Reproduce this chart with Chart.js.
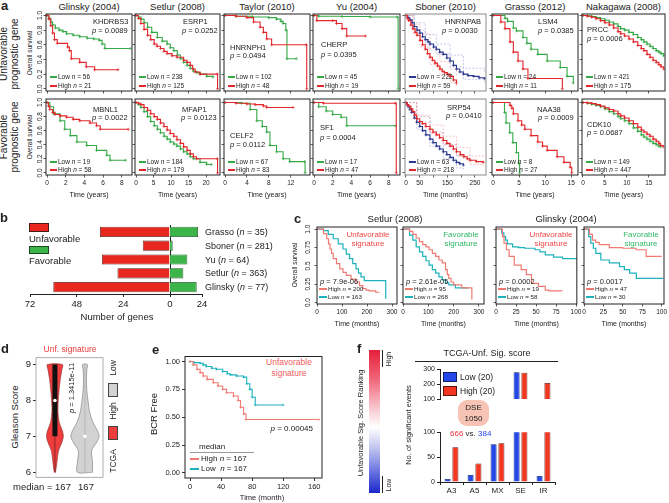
<!DOCTYPE html>
<html>
<head>
<meta charset="utf-8">
<script src="https://cdn.jsdelivr.net/npm/chart.js@4.4.1/dist/chart.umd.min.js"></script>
<style>
  body { margin: 0; background: #fff; }
  #fig { position: relative; width: 669px; height: 503px; overflow: hidden; font-family: "Liberation Sans", Arial, sans-serif; color: #222; }
  #fig canvas, #fig .t, #fig .r { position: absolute; }
  .t { white-space: nowrap; line-height: 1; }
</style>
</head>
<body>
<div id="fig"></div>
<script>
// ---------- panel a : single-gene survival, 7 cohorts ----------
const cohorts = ['Glinsky (2004)', 'Setlur (2008)', 'Taylor (2010)', 'Yu (2004)', 'Sboner (2010)', 'Grasso (2012)', 'Nakagawa (2008)'];
const timeUnit = ['years', 'years', 'years', 'years', 'months', 'years', 'years'];
const xTicks = [[0, 2, 4, 6, 8], [0, 5, 10, 15, 20], [0, 4, 8, 12], [0, 2, 4, 6, 8], [0, 50, 100, 150, 200, 250], [0, 5, 10, 15], [0, 5, 10, 15]];
const xMax = [9.1, 24, 15.5, 9.2, 290, 16.3, 18.7];
const survTicks = [0, 0.2, 0.4, 0.6, 0.8, 1];

const unfGene = ['KHDRBS3', 'ESRP1', 'HNRNPH1', 'CHERP', 'HNRNPAB', 'LSM4', 'PRCC'];
const unfP = ['0.0089', '0.0252', '0.0494', '0.0395', '0.0030', '0.0385', '0.0006'];
const unfLowN = [56, 238, 102, 45, 222, 24, 421];
const unfHighN = [21, 125, 48, 19, 59, 11, 175];
const favGene = ['MBNL1', 'MFAP1', 'CELF2', 'SF1', 'SRP54', 'NAA38', 'CDK10'];
const favP = ['0.0022', '0.0123', '0.0112', '0.0004', '0.0410', '0.0009', '0.0687'];
const favLowN = [19, 184, 67, 17, 63, 8, 149];
const favHighN = [58, 179, 83, 47, 218, 27, 447];

// [time, survival]
const glinskyUnfLow = [[0,1],[0.2,0.96],[0.4,0.91],[0.6,0.87],[0.9,0.83],[1.3,0.8],[1.7,0.78],[2.1,0.75],[2.8,0.73],[3.5,0.71],[4.3,0.69],[5,0.68],[5.6,0.66],[5.9,0.61],[6.2,0.55],[8.9,0.55]];
const glinskyUnfHigh = [[0,1],[0.2,0.95],[0.4,0.86],[0.6,0.76],[0.8,0.67],[1.1,0.62],[2.2,0.57],[2.4,0.52],[2.6,0.41],[3.5,0.36],[4.2,0.3],[5.1,0.26],[7.6,0.26]];
const setlurUnfLow = [[0,1],[0.7,0.98],[1.4,0.95],[2.3,0.9],[3.3,0.84],[4.5,0.77],[6.1,0.7],[7.5,0.65],[8.9,0.61],[9.8,0.56],[10.8,0.52],[11.8,0.46],[12.7,0.41],[13.6,0.36],[14.6,0.32],[15.5,0.28],[16.4,0.24],[17.4,0.22],[18.3,0.2],[20.2,0.17],[22,0.16]];
const setlurUnfHigh = [[0,1],[0.7,0.96],[1.4,0.89],[2.3,0.81],[3.3,0.73],[4.2,0.67],[5.2,0.61],[6,0.58],[7,0.55],[8,0.51],[8.9,0.48],[10.3,0.45],[11.7,0.43],[13.6,0.39],[14.6,0.36],[15.5,0.32],[16.2,0.27],[16.9,0.23],[18.3,0.2],[23.2,0.2],[23.3,0]];
const taylorUnfLow = [[0,1],[2,0.99],[5,0.98],[8,0.97],[9.4,0.95],[10.2,0.92],[10.6,0.89],[11.1,0.8],[11.3,0.41],[13,0.41]];
const taylorUnfHigh = [[0,1],[2,0.99],[4,0.97],[5.2,0.91],[6.4,0.84],[7,0.77],[7.6,0.68],[8.5,0.6],[14.8,0.6],[14.9,0]];
const yuUnfLow = [[0,1],[0.5,0.99],[3,0.985],[6,0.98],[8.9,0.98],[9,0]];
const yuUnfHigh = [[0,1],[0.3,0.93],[2,0.93],[2.4,0.89],[3,0.82],[3.5,0.72],[5.5,0.72]];
const sbonerUnfLow = [[0,1],[7,0.97],[14,0.94],[22,0.9],[30,0.85],[40,0.8],[50,0.76],[60,0.71],[70,0.67],[80,0.64],[87,0.61],[100,0.57],[110,0.54],[122,0.5],[135,0.47],[148,0.42],[160,0.38],[172,0.32],[183,0.27],[195,0.23],[208,0.2],[225,0.18],[245,0.17],[265,0.15],[285,0.14]];
const sbonerUnfHigh = [[0,1],[5,0.96],[10,0.93],[18,0.87],[25,0.82],[33,0.77],[40,0.73],[51,0.66],[60,0.6],[70,0.54],[78,0.48],[87,0.43],[96,0.39],[105,0.35],[114,0.31],[123,0.27],[132,0.24],[140,0.22],[150,0.2],[160,0.17],[172,0.12],[183,0.08]];
const sbonerUnfLowUp = [[0,1],[30,0.9],[70,0.74],[110,0.61],[160,0.46],[208,0.28],[285,0.22]];
const sbonerUnfLowDn = [[0,1],[30,0.8],[70,0.6],[110,0.47],[160,0.3],[208,0.13],[285,0.07]];
const sbonerUnfHighUp = [[0,1],[25,0.88],[51,0.75],[87,0.53],[123,0.37],[160,0.27],[183,0.17]];
const sbonerUnfHighDn = [[0,1],[25,0.75],[51,0.57],[87,0.33],[123,0.18],[160,0.08],[183,0.02]];
const grassoUnfLow = [[0,1],[2.3,0.96],[2.8,0.92],[3.9,0.83],[4.5,0.79],[5.75,0.7],[6.5,0.62],[7.3,0.54],[8.6,0.47],[10.4,0.38],[12.9,0.29],[14.2,0.17],[15.4,0.08]];
const grassoUnfHigh = [[0,1],[1.5,0.91],[2.3,0.82],[3.25,0.64],[3.9,0.5],[4.8,0.38],[5.75,0.27],[6.7,0.14],[13.3,0]];
const nakagawaUnfLow = [[0,1],[1,0.995],[2,0.985],[3,0.97],[4,0.955],[5,0.935],[6,0.91],[7,0.885],[8,0.85],[8.6,0.82],[9.5,0.8],[10.5,0.77],[11.5,0.74],[12.5,0.7],[13.3,0.67],[13.9,0.64],[14.6,0.61],[15.3,0.58],[16,0.55],[16.7,0.52],[17.3,0.5],[17.8,0.48],[18.4,0.45]];
const nakagawaUnfHigh = [[0,1],[1,0.99],[2,0.975],[3,0.955],[4,0.93],[5,0.9],[6,0.87],[7,0.83],[8,0.78],[8.6,0.75],[9.5,0.72],[10.5,0.68],[11.5,0.64],[12.5,0.59],[13.3,0.55],[13.9,0.52],[14.6,0.47],[15.3,0.43],[16,0.39],[16.7,0.36],[17.3,0.33],[17.8,0.3],[18.4,0.27]];

const glinskyFavLow = [[0,1],[0.3,0.94],[0.7,0.84],[1.4,0.74],[1.9,0.62],[2.5,0.53],[3.2,0.44],[4.25,0.39],[5.3,0.32],[6.4,0.25],[6.75,0.18],[8.4,0.18]];
const glinskyFavHigh = [[0,1],[0.15,0.95],[0.3,0.9],[0.6,0.86],[0.86,0.83],[1.4,0.81],[2.1,0.79],[2.8,0.76],[3.5,0.74],[4.6,0.71],[5.3,0.67],[5.7,0.62],[8.7,0.62]];
const setlurFavLow = [[0,1],[0.7,0.97],[1.4,0.93],[2.3,0.87],[3.3,0.8],[4.2,0.73],[5.2,0.67],[6.1,0.62],[7,0.57],[8,0.52],[8.9,0.48],[9.8,0.44],[10.8,0.41],[11.7,0.38],[12.7,0.34],[13.6,0.3],[14.6,0.27],[15.5,0.23],[16.4,0.2],[18.3,0.15],[20.2,0.12],[21.5,0.12]];
const setlurFavHigh = [[0,1],[0.7,0.99],[1.4,0.97],[2.3,0.93],[3.3,0.89],[4.2,0.84],[5.2,0.8],[6.1,0.76],[7,0.71],[8,0.66],[8.9,0.61],[9.8,0.56],[10.8,0.52],[11.7,0.47],[12.7,0.42],[13.6,0.37],[14.6,0.32],[15.5,0.27],[16.4,0.23],[17.3,0.2],[23.2,0.2],[23.3,0]];
const taylorFavLow = [[0,1],[3,0.99],[4.6,0.9],[5.8,0.74],[6.8,0.66],[7.6,0.58],[8.2,0.39],[9.4,0.3],[10.6,0.2],[11.8,0.16],[14.5,0.16],[14.6,0]];
const taylorFavHigh = [[0,1],[2,0.99],[4,0.98],[5.5,0.97],[7,0.95],[7.6,0.93],[12.4,0.93]];
const yuFavLow = [[0,1],[0.5,0.94],[1.3,0.88],[2,0.83],[2.9,0.79],[3.5,0.67],[8.7,0.67]];
const yuFavHigh = [[0,1],[1,0.99],[8.7,0.99],[8.8,0]];
const sbonerFavLow = [[0,1],[4,0.97],[8,0.94],[14,0.9],[20,0.86],[30,0.78],[39,0.72],[50,0.66],[60,0.6],[72,0.54],[87,0.48],[98,0.43],[110,0.38],[122,0.34],[135,0.3],[148,0.26],[160,0.22],[172,0.18],[183,0.15],[195,0.13],[208,0.11]];
const sbonerFavHigh = [[0,1],[5,0.97],[10,0.95],[18,0.91],[25,0.87],[32,0.82],[39,0.77],[50,0.73],[60,0.7],[72,0.66],[87,0.62],[98,0.58],[110,0.54],[122,0.5],[135,0.46],[148,0.42],[160,0.38],[172,0.34],[183,0.3],[197,0.26],[210,0.23],[222,0.2],[232,0.18],[255,0.16],[280,0.15]];
const sbonerFavLowUp = [[0,1],[39,0.8],[87,0.58],[135,0.4],[183,0.24],[208,0.2]];
const sbonerFavLowDn = [[0,1],[39,0.62],[87,0.38],[135,0.2],[183,0.07],[208,0.04]];
const sbonerFavHighUp = [[0,1],[39,0.82],[87,0.68],[135,0.52],[183,0.36],[232,0.24],[280,0.22]];
const sbonerFavHighDn = [[0,1],[39,0.72],[87,0.56],[135,0.4],[183,0.24],[232,0.12],[280,0.09]];
const grassoFavLow = [[0,1],[2.2,0.86],[2.5,0.71],[3.2,0.57],[3.8,0.43],[4.5,0.29],[4.9,0.14],[5.1,0]];
const grassoFavHigh = [[0,1],[3.25,0.96],[3.6,0.92],[3.9,0.84],[4.8,0.74],[5.5,0.68],[6.1,0.62],[7.3,0.53],[8.6,0.44],[9.5,0.38],[10.4,0.32],[12.3,0.23],[13.6,0.15],[14.8,0.08],[15.1,0]];
const nakagawaFavLow = [[0,1],[1,0.99],[2,0.975],[3,0.96],[4,0.94],[5,0.91],[6,0.87],[7,0.84],[8,0.8],[8.6,0.77],[9.5,0.74],[10.5,0.7],[11.5,0.64],[12.5,0.59],[13.3,0.54],[13.9,0.51],[14.6,0.48],[15.3,0.45],[16,0.42],[16.7,0.4],[17.3,0.38],[17.7,0.37]];
const nakagawaFavHigh = [[0,1],[1,0.995],[2,0.985],[3,0.97],[4,0.95],[5,0.925],[6,0.9],[7,0.88],[8,0.84],[8.6,0.81],[9.5,0.78],[10.5,0.74],[11.5,0.7],[12.5,0.65],[13.3,0.61],[13.9,0.58],[14.6,0.55],[15.3,0.52],[16,0.48],[16.7,0.45],[17.3,0.42],[17.7,0.39],[18.3,0.37]];

const unfLow = [glinskyUnfLow, setlurUnfLow, taylorUnfLow, yuUnfLow, sbonerUnfLow, grassoUnfLow, nakagawaUnfLow];
const unfHigh = [glinskyUnfHigh, setlurUnfHigh, taylorUnfHigh, yuUnfHigh, sbonerUnfHigh, grassoUnfHigh, nakagawaUnfHigh];
const favLow = [glinskyFavLow, setlurFavLow, taylorFavLow, yuFavLow, sbonerFavLow, grassoFavLow, nakagawaFavLow];
const favHigh = [glinskyFavHigh, setlurFavHigh, taylorFavHigh, yuFavHigh, sbonerFavHigh, grassoFavHigh, nakagawaFavHigh];

// ---------- panel b ----------
const studyB = ['Grasso', 'Sboner', 'Yu', 'Setlur', 'Glinsky'];
const studyN = [35, 281, 64, 363, 77];
const unfavGenes = [36, 14, 35, 27, 60];
const favGenes = [21, 2, 13, 10, 20];

// ---------- panel c : signatures ----------
const sigTitle = ['Setlur (2008)', 'Glinsky (2004)'];
const sigType = ['Unfavorable', 'Favorable', 'Unfavorable', 'Favorable'];
const sigP = ['7.9e-06', '2.61e-05', '0.0002', '0.0017'];
const sigHighN = [200, 95, 19, 47];
const sigLowN = [163, 268, 58, 30];
const setlurSigUnfHigh = [[0,1],[13,1],[26,0.94],[39,0.87],[46,0.8],[52,0.73],[58,0.67],[65,0.6],[78,0.53],[91,0.46],[104,0.41],[117,0.37],[136,0.32],[156,0.28],[170,0.23],[183,0.19],[196,0.17],[209,0.16],[235,0.14],[250,0.14]];
const setlurSigUnfLow = [[0,1],[13,1],[26,0.98],[45,0.93],[65,0.87],[85,0.8],[104,0.73],[117,0.66],[130,0.6],[143,0.53],[156,0.46],[166,0.4],[176,0.35],[189,0.3],[274,0.3],[275,0.05]];
const setlurSigFavHigh = [[0,1],[13,1],[26,0.97],[39,0.93],[52,0.88],[65,0.83],[78,0.79],[91,0.76],[103,0.72],[116,0.67],[129,0.63],[142,0.58],[155,0.54],[168,0.45],[175,0.38],[181,0.33],[190,0.28],[200,0.24],[232,0.2],[272,0.04]];
const setlurSigFavLow = [[0,1],[13,1],[26,0.92],[39,0.85],[52,0.76],[65,0.69],[78,0.63],[91,0.57],[103,0.51],[116,0.45],[129,0.4],[142,0.35],[155,0.31],[168,0.27],[181,0.24],[207,0.2],[258,0.2]];
const glinskySigUnfHigh = [[0,1],[5.6,1],[8,0.9],[10,0.81],[13,0.72],[16.4,0.63],[22.8,0.51],[31.5,0.45],[37.9,0.38],[44.4,0.26],[53,0.22],[61.6,0.17],[66,0.16],[83,0.16]];
const glinskySigUnfLow = [[0,1],[5.6,1],[7,0.95],[9.9,0.9],[12,0.85],[14.2,0.8],[20.7,0.76],[28,0.75],[35.8,0.74],[48.7,0.72],[55,0.69],[61.6,0.65],[72,0.62],[83.2,0.6],[104,0.6]];
const glinskySigFavHigh = [[0,1],[4.3,1],[7,0.93],[10.9,0.85],[15,0.82],[19.6,0.79],[32.6,0.75],[50,0.74],[67,0.72],[80,0.63],[100,0.63]];
const glinskySigFavLow = [[0,1],[4.3,1],[6,0.9],[8.7,0.81],[12,0.74],[15.2,0.67],[21.7,0.58],[32.6,0.54],[45.7,0.49],[52,0.45],[58.7,0.4],[67.4,0.33],[102,0.33]];
const sigHigh = [setlurSigUnfHigh, setlurSigFavHigh, glinskySigUnfHigh, glinskySigFavHigh];
const sigLow = [setlurSigUnfLow, setlurSigFavLow, glinskySigUnfLow, glinskySigFavLow];

// ---------- panel d : gleason violins ----------
const gleasonGrid = [6.0, 6.3, 6.6, 6.85, 7.0, 7.15, 7.4, 7.7, 8.0, 8.3, 8.6, 8.85, 9.0];
const highDensity = [0.02, 0.07, 0.12, 0.24, 0.28, 0.25, 0.14, 0.1, 0.11, 0.14, 0.18, 0.23, 0.25];
const lowDensity = [0.25, 0.25, 0.22, 0.4, 0.47, 0.42, 0.26, 0.15, 0.1, 0.06, 0.05, 0.06, 0.08];
const highIQR = [7, 9];
const gleasonRange = [6, 9];
const gleasonMedian = [8, 7];

// ---------- panel e : BCR free ----------
const bcrLow = [[0,1],[5,0.99],[13,0.985],[17,0.97],[21,0.955],[28,0.94],[34,0.93],[42,0.91],[48,0.89],[52,0.88],[60,0.87],[69,0.86],[73,0.8],[77,0.75],[80,0.68],[84,0.61],[120,0.61]];
const bcrHigh = [[0,1],[4,0.97],[9,0.93],[13,0.9],[17,0.87],[22,0.84],[30,0.81],[36,0.78],[42,0.75],[47,0.72],[56,0.69],[62,0.65],[65,0.59],[69,0.53],[72,0.48],[166,0.48]];

// ---------- panel f : splicing events ----------
const events = ['A3', 'A5', 'MX', 'SE', 'IR'];
const lowScore = [6, 14, 76, 280, 12];
const highScore = [70, 37, 78, 277, 208];

const GREEN = '#36a947', RED = '#e3262b', BLUE = '#2b3990';
const SALMON = '#f07a72', TEAL = '#1cb2bc';
const FONT = '"Liberation Sans", Arial, sans-serif';

Chart.defaults.font.family = FONT;
Chart.defaults.font.size = 6.5;
Chart.defaults.color = '#222';
Chart.defaults.animation = false;
Chart.defaults.responsive = false;
Chart.defaults.maintainAspectRatio = false;
Chart.defaults.events = [];
Chart.defaults.plugins.legend.display = false;
Chart.defaults.plugins.tooltip.enabled = false;

const fig = document.getElementById('fig');

function mk(x, y, w, h) {
    const c = document.createElement('canvas');
    c.width = w; c.height = h;
    c.style.cssText = `left:${x}px;top:${y}px;width:${w}px;height:${h}px`;
    fig.appendChild(c);
    return c;
}

function T(x, y, html, size, anchor, extra) {
    const d = document.createElement('div');
    d.className = 't';
    d.innerHTML = html;
    let tf = 'translate(-50%,-50%)';
    if (anchor === 'l') tf = 'translate(0,-50%)';
    if (anchor === 'r') tf = 'translate(-100%,-50%)';
    if (anchor === 'v') tf = 'translate(-50%,-50%) rotate(-90deg)';
    d.style.cssText = `left:${x}px;top:${y}px;font-size:${size}px;transform:${tf};${extra || ''}`;
    fig.appendChild(d);
    return d;
}

function rect(x, y, w, h, css) {
    const d = document.createElement('div');
    d.className = 'r';
    d.style.cssText = `left:${x}px;top:${y}px;width:${w}px;height:${h}px;box-sizing:border-box;${css}`;
    fig.appendChild(d);
}

const key = (x, y, w, color, lw = 1.4) => rect(x, y - lw / 2, w, lw, `background:${color}`);

// border around the plot area
const frame = (col, lw = 1) => ({
    id: 'frame',
    afterDatasetsDraw(c) {
        const a = c.chartArea, g = c.ctx;
        g.save();
        g.strokeStyle = col; g.lineWidth = lw;
        g.strokeRect(a.left, a.top, a.right - a.left, a.bottom - a.top);
        g.restore();
    }
});

// y tick labels written bottom-to-top
const rotY = (vals, labels, fs, dx) => ({
    id: 'rotY',
    afterDraw(c) {
        const s = c.scales.y, g = c.ctx;
        g.save();
        g.font = `${fs}px ${FONT}`; g.fillStyle = '#222';
        g.textAlign = 'center'; g.textBaseline = 'middle';
        vals.forEach((v, i) => {
            g.save();
            g.translate(s.right - dx, s.getPixelForValue(v));
            g.rotate(-Math.PI / 2);
            g.fillText(labels[i], 0, 0);
            g.restore();
        });
        g.restore();
    }
});

function km(o) {
    const L = 16, TP = 6, R = 6, B = 14;
    const tickGrid = { drawOnChartArea: false, tickLength: 2.5, color: '#333', lineWidth: 0.8 };
    const plugins = [frame(o.frame || '#222')];
    if (o.ylab) plugins.push(rotY(o.yticks, o.ylab, 6.5, o.dx));
    return new Chart(mk(o.x - L, o.y - TP, o.w + L + R, o.h + TP + B), {
        type: 'line',
        data: {
            datasets: o.curves.map(c => ({
                data: c.pts.map(p => ({ x: p[0], y: p[1] })),
                borderColor: c.color,
                borderWidth: c.bw || 1.1,
                borderDash: c.dash || [],
                stepped: true,
                pointStyle: 'cross',
                pointRadius: c.cross ? 1.5 : 0,
                pointBorderColor: c.color,
                pointBorderWidth: 0.7,
            })),
        },
        options: {
            layout: { padding: { top: TP, right: R } },
            scales: {
                x: {
                    type: 'linear', min: o.xmin, max: o.xmax,
                    border: { display: false }, grid: tickGrid,
                    afterFit: s => { s.height = B; },
                    afterBuildTicks: s => { s.ticks = o.xticks.map(v => ({ value: v })); },
                    ticks: {
                        display: !!o.xlab, padding: 1.5, maxRotation: 0, font: { size: 6.5 },
                        callback: v => (o.xshow && !o.xshow.includes(v)) ? '' : v,
                    },
                },
                y: {
                    type: 'linear', min: o.ymin, max: o.ymax,
                    border: { display: false }, grid: tickGrid,
                    afterFit: s => { s.width = L; },
                    afterBuildTicks: s => { s.ticks = o.yticks.map(v => ({ value: v })); },
                    ticks: { display: false },
                },
            },
        },
        plugins,
    });
}

// ================= panel a =================
const colX = [46, 135, 224, 313, 405, 492, 582];
const colW = [86, 85, 86, 87, 81, 86, 83];
const labelXY = [
    [[93, 21.5, 92, 30.5], [183, 21.5, 182, 30.5], [230, 47.5, 230, 55.5], [321, 44.5, 321, 54.5], [445, 21.5, 442, 30.5], [538, 21.5, 538, 30.5], [587, 29.5, 587, 38.5]],
    [[93, 109.5, 92, 117.5], [182, 109.5, 181, 117.5], [230, 135.5, 230, 144.5], [320, 127.5, 320, 137.5], [447, 107.5, 446, 115.5], [537, 109.5, 538, 117.5], [587, 124.5, 587, 132.5]],
];
const rowsA = [
    { y: 14, h: 77, ymax: 1.02, low: unfLow, high: unfHigh, gene: unfGene, p: unfP, nLow: unfLowN, nHigh: unfHighN, keyY: [77, 86],
      ci: [sbonerUnfLowUp, sbonerUnfLowDn, sbonerUnfHighUp, sbonerUnfHighDn] },
    { y: 99, h: 76, ymax: 1.05, low: favLow, high: favHigh, gene: favGene, p: favP, nLow: favLowN, nHigh: favHighN, keyY: [162, 170],
      ci: [sbonerFavLowUp, sbonerFavLowDn, sbonerFavHighUp, sbonerFavHighDn] },
];

T(1, 5, 'a', 13, 'l', 'font-weight:bold');
cohorts.forEach((c, i) => T(colX[i] + colW[i] / 2, 7, c, 9.5));
T(9, 54, 'Unfavorable<br>prognostic gene', 10, 'v', 'text-align:center;line-height:1.05');
T(9, 137, 'Favorable<br>prognostic gene', 10, 'v', 'text-align:center;line-height:1.05');
T(30, 53, 'Overall survival', 6.5, 'v');
T(30, 137, 'Overall survival', 6.5, 'v');

rowsA.forEach((r, ri) => {
    cohorts.forEach((c, i) => {
        const sb = i === 4;
        const lowCol = sb ? BLUE : GREEN;
        const curves = [
            { pts: r.high[i], color: RED, cross: true },
            { pts: r.low[i], color: lowCol, cross: true },
        ];
        if (sb) {
            curves.push({ pts: r.ci[2], color: '#f4a0a0', dash: [2, 1.5], bw: 0.6 }, { pts: r.ci[3], color: '#f4a0a0', dash: [2, 1.5], bw: 0.6 },
                        { pts: r.ci[0], color: '#9aa2d8', dash: [2, 1.5], bw: 0.6 }, { pts: r.ci[1], color: '#9aa2d8', dash: [2, 1.5], bw: 0.6 });
        }
        km({
            x: colX[i], y: r.y, w: colW[i], h: r.h,
            xmin: -xMax[i] * 0.012, xmax: xMax[i], xticks: xTicks[i], xlab: ri === 1,
            xshow: sb ? [0, 50, 150, 250] : null,
            ymin: -0.03, ymax: r.ymax, yticks: survTicks,
            ylab: i === 0 ? ['0.0', '0.2', '0.4', '0.6', '0.8', '1.0'] : null, dx: 6,
            curves, frame: sb ? '#8a8a8a' : '#222',
        });
        const q = labelXY[ri][i];
        T(q[0], q[1], r.gene[i], 7.5, 'l');
        T(q[2], q[3], '<i>p</i> = ' + r.p[i], 7.5, 'l');
        key(colX[i] + 4, r.keyY[0], 7, lowCol);
        T(colX[i] + 12, r.keyY[0], 'Low <i>n</i> = ' + r.nLow[i], 6.5, 'l');
        key(colX[i] + 4, r.keyY[1], 7, RED);
        T(colX[i] + 12, r.keyY[1], 'High <i>n</i> = ' + r.nHigh[i], 6.5, 'l');
        if (ri === 1) T(colX[i] + colW[i] / 2, 194, 'Time (' + timeUnit[i] + ')', 7);
    });
});

// ================= panel b =================
T(0, 217, 'b', 13, 'l', 'font-weight:bold');
rect(29, 223, 20, 9, 'background:#e8281e;border:0.8px solid #4a1a14');
T(29, 239, 'Unfavorable', 9.5, 'l');
rect(29, 246, 20, 8, 'background:#3cb44a;border:0.8px solid #1d4a22');
T(29, 261, 'Favorable', 9.5, 'l');

const chartB = new Chart(mk(0, 218, 226, 94), {
    type: 'bar',
    data: {
        labels: studyB,
        datasets: [
            { data: unfavGenes, xAxisID: 'xl', backgroundColor: '#e8281e', borderColor: '#4a1a14', borderWidth: 0.8, grouped: false, barPercentage: 0.74, categoryPercentage: 1 },
            { data: favGenes, xAxisID: 'xr', backgroundColor: '#3cb44a', borderColor: '#1d4a22', borderWidth: 0.8, grouped: false, barPercentage: 0.74, categoryPercentage: 1 },
        ],
    },
    options: {
        indexAxis: 'y',
        layout: { padding: { left: 30, top: 7, right: 24 } },
        scales: {
            xl: {
                type: 'linear', position: 'bottom', stack: 'genes', stackWeight: 140, reverse: true, min: 0, max: 72,
                afterFit: s => { s.height = 18; },
                afterBuildTicks: s => { s.ticks = [0, 24, 48, 72].map(v => ({ value: v })); },
                grid: { color: c => (c.tick && c.tick.value === 0) ? '#222' : 'rgba(0,0,0,0)', tickColor: '#222', tickLength: 3 },
                border: { color: '#222' },
                ticks: { font: { size: 9.5 }, padding: 2, maxRotation: 0 },
            },
            xr: {
                type: 'linear', position: 'bottom', stack: 'genes', stackWeight: 32, min: 0, max: 24,
                afterFit: s => { s.height = 18; },
                afterBuildTicks: s => { s.ticks = [{ value: 24 }]; },
                grid: { drawOnChartArea: false, tickColor: '#222', tickLength: 3 },
                border: { color: '#222' },
                ticks: { font: { size: 9.5 }, padding: 2, maxRotation: 0 },
            },
            y: { display: false },
        },
    },
});
studyB.forEach((s, i) => T(205, 218 + chartB.scales.y.getPixelForValue(i), s + ' (<i>n</i> = ' + studyN[i] + ')', 9, 'l'));
T(117, 317, 'Number of genes', 9.5);

// ================= panel c =================
T(294, 218, 'c', 13, 'l', 'font-weight:bold');
T(395, 219, sigTitle[0], 9.5);
T(566, 219, sigTitle[1], 9.5);
T(295, 265, 'Overall survival', 6.5, 'v');
const cX = [317, 403, 496, 584];
const cW = [80, 81, 81, 80];
const cMax = [320, 320, 101, 103];
const cTicks = [[0, 100, 200, 300], [0, 100, 200, 300], [0, 25, 50, 75, 100], [0, 25, 50, 75, 100]];
sigType.forEach((t, i) => {
    km({
        x: cX[i], y: 227, w: cW[i], h: 77,
        xmin: 0, xmax: cMax[i], xticks: cTicks[i], xlab: true,
        ymin: -0.02, ymax: 1.03, yticks: [0, 0.25, 0.5, 0.75, 1],
        ylab: i === 0 ? ['0.0', '0.25', '0.5', '0.75', '1.0'] : null, dx: 9,
        curves: [{ pts: sigHigh[i], color: SALMON, bw: 1.2 }, { pts: sigLow[i], color: TEAL, bw: 1.2 }],
    });
    const col = t === 'Unfavorable' ? '#ee4646' : '#2fb766';
    const cx = [368, 461, 551, 641][i];
    T(cx, 234.5, t, 8, 'c', 'color:' + col);
    T(cx, 243.5, 'signature', 8, 'c', 'color:' + col);
    T(cX[i] + 3, 282, '<i>p</i> = ' + sigP[i], 7.5, 'l');
    key(cX[i] + 2, 289, 8, SALMON, 1.6);
    T(cX[i] + 11, 289, 'High <i>n</i> = ' + sigHighN[i], 6.2, 'l');
    key(cX[i] + 2, 297, 8, TEAL, 1.6);
    T(cX[i] + 11, 297, 'Low <i>n</i> = ' + sigLowN[i], 6.2, 'l');
    T(cX[i] + cW[i] / 2, 323, 'Time (months)', 7);
});

// ================= panel d =================
T(1, 348, 'd', 13, 'l', 'font-weight:bold');
T(70, 349, 'Unf. signature', 8.5, 'c', 'color:#ee3b3b');
T(15, 417, 'Gleason Score', 9.5, 'v');

function violin(center, widths) {
    const right = gleasonGrid.map((g, i) => ({ x: center + widths[i], y: g }));
    const left = gleasonGrid.map((g, i) => ({ x: center - widths[i], y: g })).reverse();
    return [...right, ...left, right[0]];
}
new Chart(mk(10, 350, 98, 135), {
    type: 'scatter',
    data: {
        datasets: [
            { data: [{ x: 1, y: gleasonMedian[0] }, { x: 2, y: gleasonMedian[1] }], pointRadius: 1.8, backgroundColor: '#fff', borderColor: '#fff', borderWidth: 0 },
            { data: [{ x: 1, y: highIQR[0] }, { x: 1, y: highIQR[1] }], showLine: true, borderColor: '#111', borderWidth: 5, borderCapStyle: 'butt', pointRadius: 0 },
            { data: [{ x: 1, y: gleasonRange[0] }, { x: 1, y: gleasonRange[1] }], showLine: true, borderColor: '#5a2020', borderWidth: 0.7, pointRadius: 0 },
            { data: [{ x: 2, y: gleasonRange[0] }, { x: 2, y: gleasonRange[1] }], showLine: true, borderColor: '#aaa', borderWidth: 0.7, pointRadius: 0 },
            { data: violin(1, highDensity), showLine: true, fill: 'shape', backgroundColor: '#ef3c3c', borderColor: '#8a2a2a', borderWidth: 0.6, pointRadius: 0, tension: 0.3 },
            { data: violin(2, lowDensity), showLine: true, fill: 'shape', backgroundColor: '#d2d2d2', borderColor: '#777', borderWidth: 0.6, pointRadius: 0, tension: 0.3 },
        ],
    },
    options: {
        layout: { padding: { top: 5, right: 5, bottom: 7 } },
        scales: {
            x: { type: 'linear', min: 0.37, max: 2.6, display: false },
            y: {
                min: 5.86, max: 9.19,
                afterFit: s => { s.width = 26; },
                afterBuildTicks: s => { s.ticks = [6, 7, 8, 9].map(v => ({ value: v })); },
                grid: { drawOnChartArea: false, tickLength: 3, color: '#333' },
                border: { display: false },
                ticks: { font: { size: 9.5 }, padding: 2 },
            },
        },
    },
    plugins: [frame('#999', 0.8)],
});
T(72, 388, '<i>p</i> = 1.3415e-11', 7.5, 'v');
T(113, 368, 'Low', 8.5, 'v');
rect(108, 383, 10, 14, 'background:#d2d2d2;border:0.8px solid #444');
T(113, 411, 'High', 8.5, 'v');
rect(108, 426, 10, 14, 'background:#ef3c3c;border:0.8px solid #444');
T(113, 461, 'TCGA', 8.5, 'v');
T(42, 487, 'median = 167', 9.5);
T(86, 487, '167', 9.5);

// ================= panel e =================
T(152, 349, 'e', 13, 'l', 'font-weight:bold');
T(289, 362, 'Unfavorable', 8.5, 'c', 'color:#f06060');
T(289, 373, 'signature', 8.5, 'c', 'color:#f06060');
T(154, 414, 'BCR Free', 9.5, 'v');
new Chart(mk(150, 350, 178, 145), {
    type: 'line',
    data: {
        datasets: [
            { data: bcrHigh.map(p => ({ x: p[0], y: p[1] })), stepped: true, borderColor: SALMON, borderWidth: 1.1, pointStyle: 'cross', pointRadius: 1.4, pointBorderColor: SALMON, pointBorderWidth: 0.6 },
            { data: bcrLow.map(p => ({ x: p[0], y: p[1] })), stepped: true, borderColor: TEAL, borderWidth: 1.1, pointStyle: 'cross', pointRadius: 1.4, pointBorderColor: TEAL, pointBorderWidth: 0.6 },
        ],
    },
    options: {
        layout: { padding: { top: 5, right: 6 } },
        scales: {
            x: {
                type: 'linear', min: -6.5, max: 170,
                afterFit: s => { s.height = 17; },
                afterBuildTicks: s => { s.ticks = [0, 40, 80, 120, 160].map(v => ({ value: v })); },
                grid: { drawOnChartArea: false, tickLength: 3, color: '#333' },
                border: { display: false },
                ticks: { font: { size: 7.5 }, padding: 1, maxRotation: 0 },
            },
            y: {
                min: -0.045, max: 1.045,
                afterFit: s => { s.width = 35; },
                afterBuildTicks: s => { s.ticks = [0, 0.25, 0.5, 0.75, 1].map(v => ({ value: v })); },
                grid: { drawOnChartArea: false, tickLength: 3, color: '#333' },
                border: { display: false },
                ticks: { font: { size: 7.5 }, padding: 2, callback: v => v.toFixed(2) },
            },
        },
    },
    plugins: [frame('#222')],
});
T(313, 429, '<i>p</i> = 0.00045', 8, 'r');
T(199, 447, 'median', 8, 'l');
rect(190, 452, 64, 0.8, 'background:#999');
key(190, 459, 9, SALMON, 2);
T(201, 459, 'High <i>n</i> = 167', 8, 'l');
key(190, 469, 9, TEAL, 2);
T(201, 469, 'Low&nbsp; <i>n</i> = 167', 8, 'l');
T(262, 498, 'Time (month)', 7.5);

// ================= panel f =================
T(357, 348, 'f', 13, 'l', 'font-weight:bold');
rect(369, 350, 11, 143, 'background:linear-gradient(to bottom,#e6203c 0%,#f06478 20%,#f8c4cc 40%,#ffffff 54%,#c4c8f0 68%,#6a74e0 85%,#1b28c8 100%)');
rect(382, 350, 0.8, 17, 'background:#222');
T(388, 359, 'High', 7, 'v');
rect(382, 476, 0.8, 17, 'background:#222');
T(388, 485, 'Low', 7, 'v');
T(361, 423, 'Unfavorable Sig. Score Ranking', 7.5, 'v');
T(487, 353, 'TCGA-Unf. Sig. score', 9);
rect(415, 361, 143, 0.8, 'background:#222');
T(409, 425, 'No. of significant events', 7.5, 'v');

function fBars(top, h, min, max, ticks, showX) {
    const bar = (data, bg, bd) => ({ data, backgroundColor: bg, borderColor: bd, borderWidth: 0.8, barPercentage: 0.77, categoryPercentage: 0.68, clip: 0 });
    return new Chart(mk(412, top, 148, h), {
        type: 'bar',
        data: {
            labels: events,
            datasets: [
                bar(showX ? lowScore : lowScore.map(v => v > min ? v : null), '#2447e8', '#10206a'),
                bar(showX ? highScore : highScore.map(v => v > min ? v : null), '#f2361f', '#5a140b'),
            ],
        },
        options: {
            layout: { padding: { top: 5, right: 5, bottom: showX ? 0 : 2 } },
            scales: {
                x: {
                    display: showX,
                    afterFit: s => { s.height = 20; },
                    grid: { drawOnChartArea: false, tickLength: 3, color: '#222' },
                    border: { color: '#222' },
                    ticks: { font: { size: 8 }, padding: 1 },
                },
                y: {
                    min, max,
                    afterFit: s => { s.width = 28; },
                    afterBuildTicks: s => { s.ticks = ticks.map(v => ({ value: v })); },
                    grid: { drawOnChartArea: false, tickLength: 3, color: '#222' },
                    border: { color: '#222' },
                    ticks: { font: { size: 7 }, padding: 2 },
                },
            },
        },
    });
}
fBars(363, 58, 100, 300, [100, 200, 300], false);
fBars(426, 76, 0, 100, [0, 50, 100], true);

rect(443, 372, 14, 10, 'background:#2447e8;border:0.8px solid #10206a');
T(460, 377, 'Low (20)', 8.5, 'l');
rect(443, 386, 14, 10, 'background:#f2361f;border:0.8px solid #5a140b');
T(460, 391, 'High (20)', 8.5, 'l');
rect(458, 400, 31, 26, 'background:#f6c3b4;border-radius:9px');
T(473.5, 408, 'DSE', 8);
T(473.5, 418.5, '1050', 8);
T(450, 434, '<span style="color:#e8323c">666</span> vs. <span style="color:#2447e8">384</span>', 8, 'l');
</script>
</body>
</html>
